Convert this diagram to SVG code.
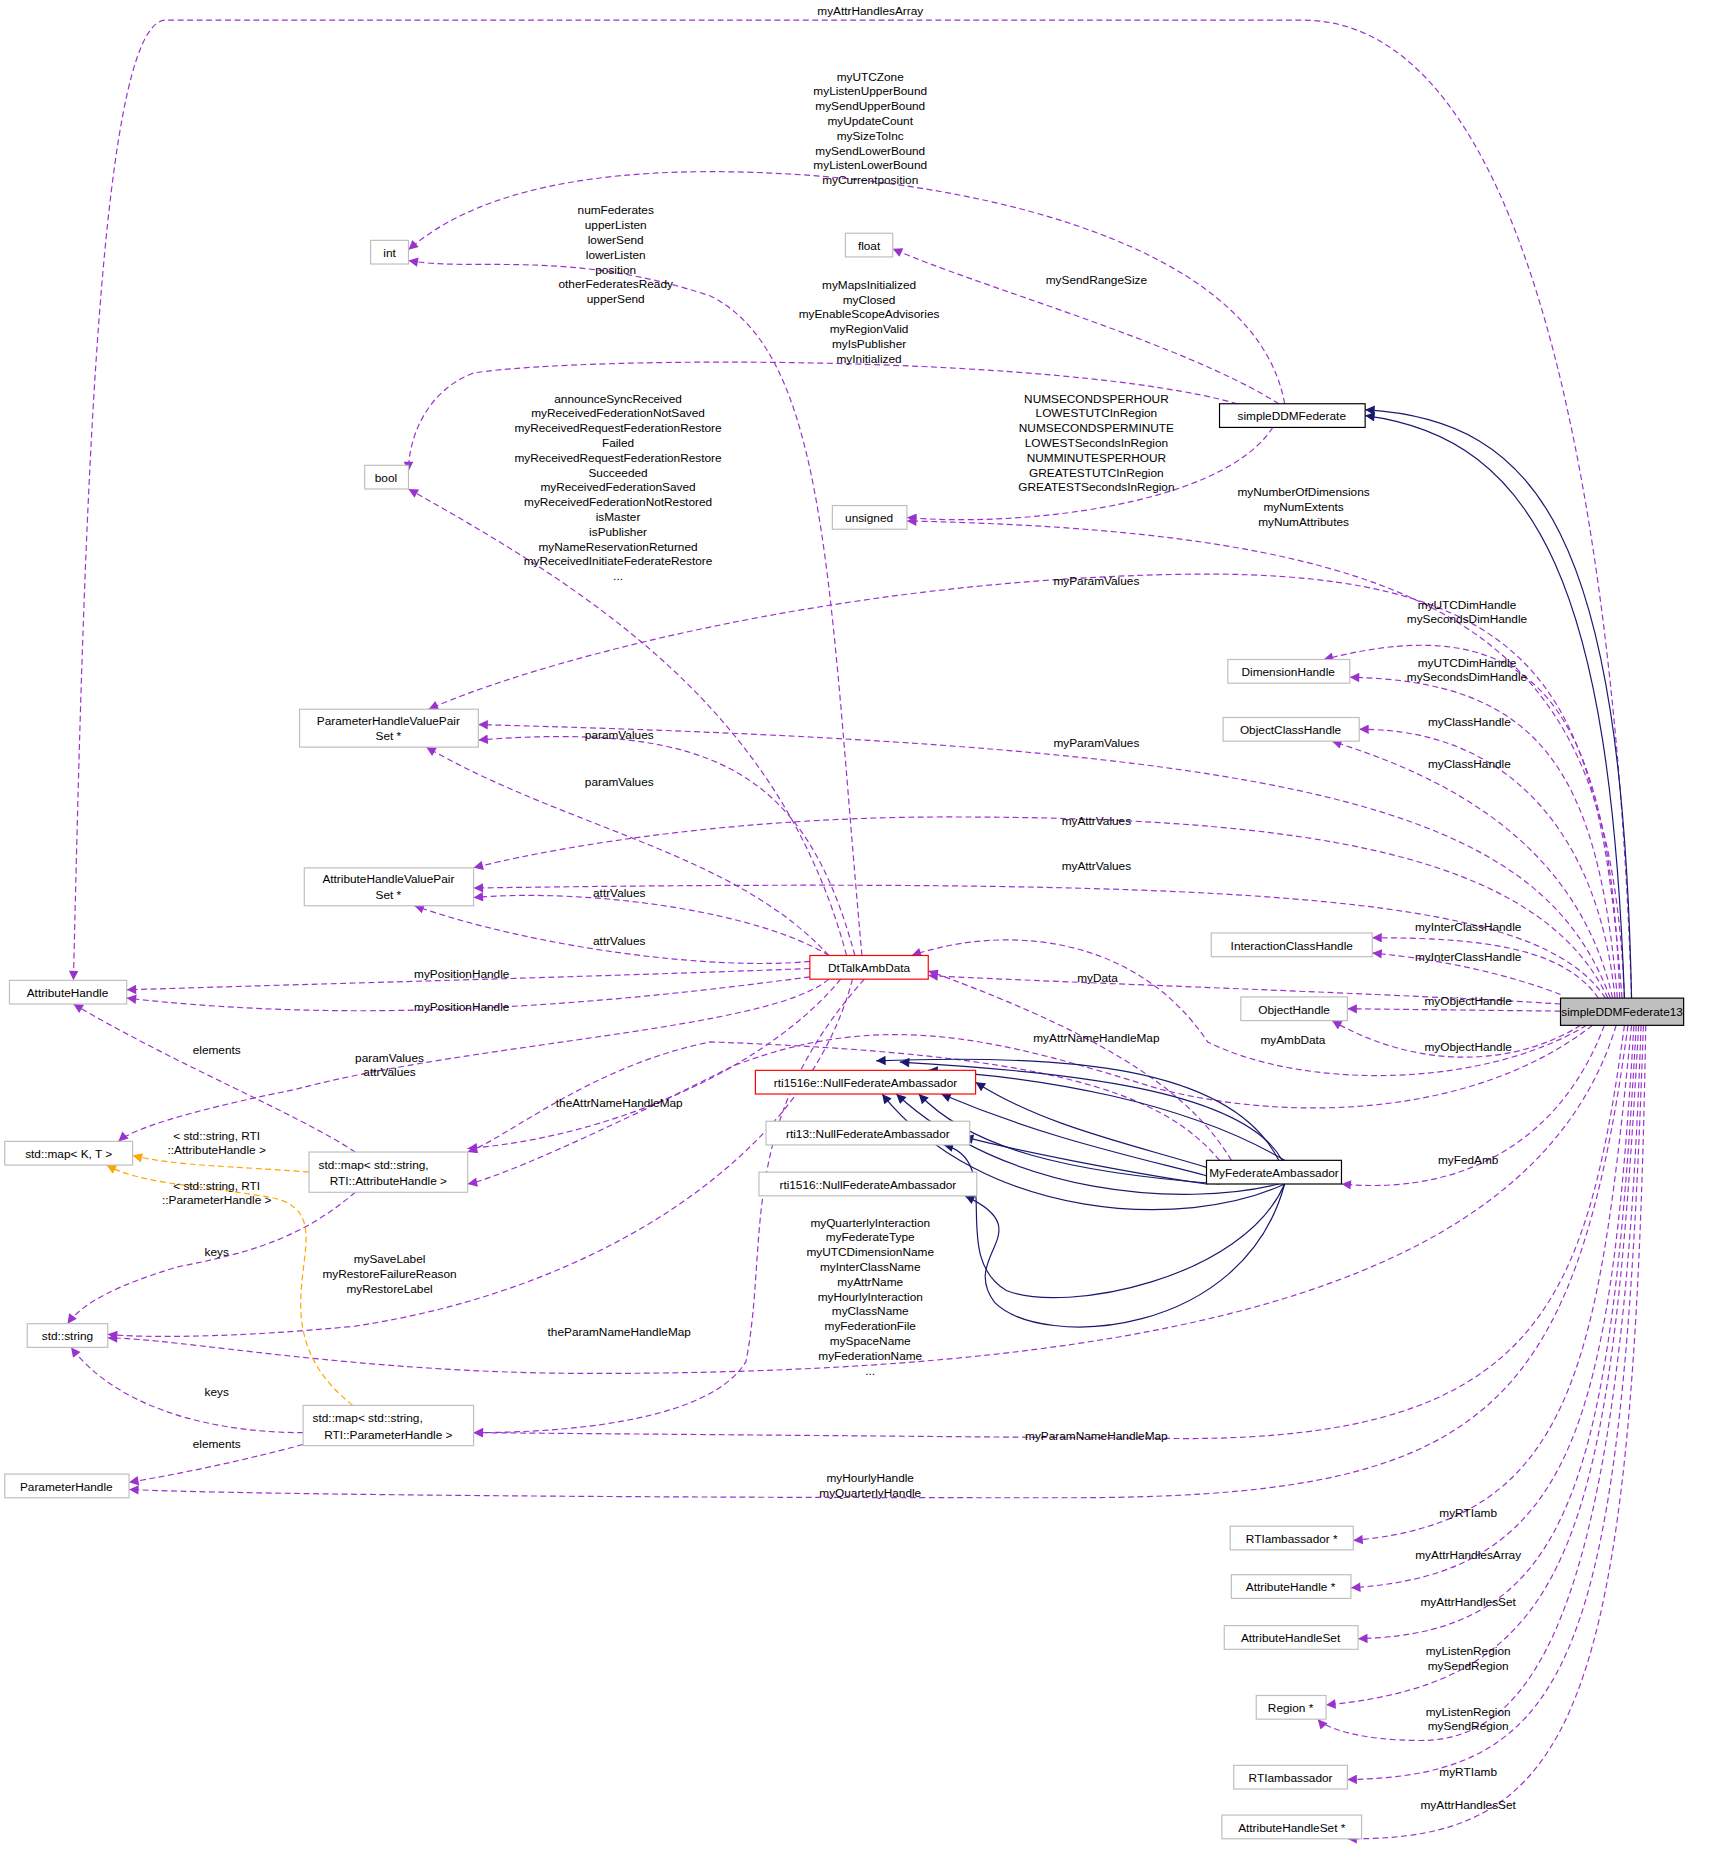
<svg xmlns="http://www.w3.org/2000/svg" width="1717" height="1850" viewBox="0 0 1717 1850">
<style>
text{font-family:"Liberation Sans",Arial,sans-serif;font-size:10px;fill:#000}
.n rect{fill:#fff;stroke:#bfbfbf;stroke-width:1}
.b rect{stroke:#000}
.r rect{stroke:#ff0000}
.m rect{fill:#bfbfbf;stroke:#000}
.e{fill:none;stroke:#9a32cd;stroke-dasharray:5,3;marker-end:url(#ap)}
.o{fill:none;stroke:#ffa500;stroke-dasharray:5,3;marker-end:url(#ao)}
.s{fill:none;stroke:#191970;marker-end:url(#an)}
.l{text-anchor:middle}
</style>
<defs>
<marker id="ap" viewBox="0 0 10 10" refX="10" refY="5" markerWidth="11" markerHeight="8" markerUnits="userSpaceOnUse" orient="auto"><path d="M0,0L10,5L0,10z" fill="#9a32cd"/></marker>
<marker id="ao" viewBox="0 0 10 10" refX="10" refY="5" markerWidth="11" markerHeight="8" markerUnits="userSpaceOnUse" orient="auto"><path d="M0,0L10,5L0,10z" fill="#ffa500"/></marker>
<marker id="an" viewBox="0 0 10 10" refX="10" refY="5" markerWidth="11" markerHeight="8" markerUnits="userSpaceOnUse" orient="auto"><path d="M0,0L10,5L0,10z" fill="#191970"/></marker>
</defs>
<rect width="1717" height="1850" fill="#fff"/>
<g transform="scale(1.184)">
<g id="connectors">
<path class="e" d="M1378,843C1370,600 1330,17 1100,17L140,17C80,17 70,500 62,828"/>
<path class="e" d="M1085,341C1060,200 800,145 600,145C450,145 380,180 345,211"/>
<path class="e" d="M1080,341C1000,290 820,240 754,210"/>
<path class="e" d="M1045,341C900,300 500,300 400,315C360,330 345,370 345,398"/>
<path class="e" d="M1075,361C1030,430 850,445 766,437"/>
<path class="e" d="M1372,843C1360,550 1250,450 766,440"/>
<path class="e" d="M1370,843C1350,600 1320,480 1000,485C700,490 450,560 362,599"/>
<path class="e" d="M1368,843C1360,600 1300,510 1118,557"/>
<path class="e" d="M1366,843C1350,650 1300,575 1140,572"/>
<path class="e" d="M1364,843C1350,700 1270,615 1148,616"/>
<path class="e" d="M1362,843C1330,700 1200,650 1125,626"/>
<path class="e" d="M1360,843C1300,680 1100,630 404,612"/>
<path class="e" d="M1358,843C1300,720 1100,690 800,690C600,690 450,720 400,733"/>
<path class="e" d="M1356,843C1300,760 1100,740 400,750"/>
<path class="e" d="M1350,843C1320,800 1250,792 1159,792"/>
<path class="e" d="M1318,840C1280,825 1220,810 1159,805"/>
<path class="e" d="M1318,854L1138,852"/>
<path class="e" d="M1335,866C1280,900 1200,905 1125,862"/>
<path class="e" d="M1318,848C1200,840 900,830 784,824"/>
<path class="e" d="M1340,866C1250,920 1100,920 1020,880C960,790 850,780 770,807"/>
<path class="e" d="M1345,866C1250,940 1100,950 980,920C850,880 750,850 620,900C500,960 420,995 395,1000"/>
<path class="e" d="M1355,866C1320,960 1240,1010 1133,1000"/>
<path class="e" d="M1365,866C1300,1080 1000,1160 500,1160C300,1160 150,1130 91,1130"/>
<path class="e" d="M1372,866C1340,1100 1300,1215 1000,1215L400,1210"/>
<path class="e" d="M1375,866C1330,1200 1250,1265 900,1265C500,1265 200,1262 109,1258"/>
<path class="e" d="M1378,866C1350,1150 1330,1285 1143,1301"/>
<path class="e" d="M1380,866C1360,1200 1330,1330 1141,1341"/>
<path class="e" d="M1382,866C1360,1250 1330,1380 1147,1384"/>
<path class="e" d="M1384,866C1360,1300 1330,1420 1120,1440"/>
<path class="e" d="M1386,866C1370,1350 1300,1470 1200,1470C1150,1470 1120,1460 1113,1452"/>
<path class="e" d="M1388,866C1370,1400 1330,1500 1138,1503"/>
<path class="e" d="M1390,866C1380,1450 1330,1555 1138,1553"/>
<path class="e" d="M728,807C700,500 700,300 600,250C480,210 400,230 345,220"/>
<path class="e" d="M715,807C660,600 500,500 345,413"/>
<path class="e" d="M722,807C680,650 600,610 404,625"/>
<path class="e" d="M700,807C620,720 480,700 360,631"/>
<path class="e" d="M700,807C640,770 500,750 400,758"/>
<path class="e" d="M684,812C600,820 450,800 350,765"/>
<path class="e" d="M684,818C500,825 300,830 107,836"/>
<path class="e" d="M684,825C500,850 300,865 107,843"/>
<path class="e" d="M700,827C650,870 400,880 250,920C150,940 110,955 100,964"/>
<path class="e" d="M710,827C650,900 520,960 395,970"/>
<path class="e" d="M720,827C680,980 500,1090 300,1120C200,1130 120,1130 91,1127"/>
<path class="e" d="M730,827C620,950 650,1050 630,1150C600,1200 480,1210 400,1210"/>
<path class="e" d="M1040,980C1010,930 950,880 784,820"/>
<path class="e" d="M1030,980C980,920 880,890 600,880C500,900 430,960 395,973"/>
<path class="e" d="M300,973C250,940 150,900 62,848"/>
<path class="e" d="M300,1007C250,1050 200,1060 150,1070C100,1085 70,1100 57,1118"/>
<path class="e" d="M256,1210C180,1210 100,1190 60,1138"/>
<path class="e" d="M256,1220C200,1235 150,1245 109,1252"/>
<path class="o" d="M261,990C200,985 150,985 112,976"/>
<path class="o" d="M298,1187C200,1110 310,1020 220,1010C160,1000 120,1000 90,984"/>
<path class="s" d="M1372,843C1360,500 1300,370 1153,351"/>
<path class="s" d="M1378,843C1370,450 1300,355 1153,346"/>
<path class="s" d="M1080,980C1040,900 900,890 740,896"/>
<path class="s" d="M1083,980C1050,920 900,905 760,897"/>
<path class="s" d="M1085,980C1000,930 880,910 784,904"/>
<path class="s" d="M1019,986C950,965 880,950 824,914"/>
<path class="s" d="M1019,993C950,975 880,960 795,924"/>
<path class="s" d="M1030,1000C900,990 820,970 776,924"/>
<path class="s" d="M1080,1000C1000,1020 850,1010 757,924"/>
<path class="s" d="M1085,1000C1000,1040 830,1030 745,924"/>
<path class="s" d="M1019,1000C950,990 850,970 814,960"/>
<path class="s" d="M1085,1000C1050,1080 900,1110 850,1090C800,1060 850,980 797,967"/>
<path class="s" d="M1085,1000C1050,1130 880,1140 840,1100C810,1060 880,1040 815,1010"/>
</g>
<g id="edge-labels">
<text class="l" x="735" y="13">myAttrHandlesArray</text>
<text class="l" x="735" y="68">myUTCZone</text><text class="l" x="735" y="80.5">myListenUpperBound</text><text class="l" x="735" y="93">mySendUpperBound</text><text class="l" x="735" y="105.5">myUpdateCount</text><text class="l" x="735" y="118">mySizeToInc</text><text class="l" x="735" y="130.5">mySendLowerBound</text><text class="l" x="735" y="143">myListenLowerBound</text><text class="l" x="735" y="155.5">myCurrentposition</text>
<text class="l" x="926" y="240">mySendRangeSize</text>
<text class="l" x="734" y="244">myMapsInitialized</text><text class="l" x="734" y="256.5">myClosed</text><text class="l" x="734" y="269">myEnableScopeAdvisories</text><text class="l" x="734" y="281.5">myRegionValid</text><text class="l" x="734" y="294">myIsPublisher</text><text class="l" x="734" y="306.5">myInitialized</text>
<text class="l" x="926" y="340">NUMSECONDSPERHOUR</text><text class="l" x="926" y="352.5">LOWESTUTCInRegion</text><text class="l" x="926" y="365">NUMSECONDSPERMINUTE</text><text class="l" x="926" y="377.5">LOWESTSecondsInRegion</text><text class="l" x="926" y="390">NUMMINUTESPERHOUR</text><text class="l" x="926" y="402.5">GREATESTUTCInRegion</text><text class="l" x="926" y="415">GREATESTSecondsInRegion</text>
<text class="l" x="1101" y="419">myNumberOfDimensions</text><text class="l" x="1101" y="431.5">myNumExtents</text><text class="l" x="1101" y="444">myNumAttributes</text>
<text class="l" x="520" y="181">numFederates</text><text class="l" x="520" y="193.5">upperListen</text><text class="l" x="520" y="206">lowerSend</text><text class="l" x="520" y="218.5">lowerListen</text><text class="l" x="520" y="231">position</text><text class="l" x="520" y="243.5">otherFederatesReady</text><text class="l" x="520" y="256">upperSend</text>
<text class="l" x="522" y="340">announceSyncReceived</text><text class="l" x="522" y="352.5">myReceivedFederationNotSaved</text><text class="l" x="522" y="365">myReceivedRequestFederationRestore</text><text class="l" x="522" y="377.5">Failed</text><text class="l" x="522" y="390">myReceivedRequestFederationRestore</text><text class="l" x="522" y="402.5">Succeeded</text><text class="l" x="522" y="415">myReceivedFederationSaved</text><text class="l" x="522" y="427.5">myReceivedFederationNotRestored</text><text class="l" x="522" y="440">isMaster</text><text class="l" x="522" y="452.5">isPublisher</text><text class="l" x="522" y="465">myNameReservationReturned</text><text class="l" x="522" y="477.5">myReceivedInitiateFederateRestore</text><text class="l" x="522" y="490">...</text>
<text class="l" x="926" y="494">myParamValues</text>
<text class="l" x="1239" y="514">myUTCDimHandle</text><text class="l" x="1239" y="526.5">mySecondsDimHandle</text>
<text class="l" x="1239" y="563">myUTCDimHandle</text><text class="l" x="1239" y="575.5">mySecondsDimHandle</text>
<text class="l" x="1241" y="613">myClassHandle</text>
<text class="l" x="523" y="624">paramValues</text>
<text class="l" x="926" y="631">myParamValues</text>
<text class="l" x="1241" y="649">myClassHandle</text>
<text class="l" x="523" y="664">paramValues</text>
<text class="l" x="926" y="697">myAttrValues</text>
<text class="l" x="926" y="735">myAttrValues</text>
<text class="l" x="523" y="758">attrValues</text>
<text class="l" x="1240" y="786">myInterClassHandle</text>
<text class="l" x="523" y="798">attrValues</text>
<text class="l" x="1240" y="812">myInterClassHandle</text>
<text class="l" x="390" y="826">myPositionHandle</text>
<text class="l" x="927" y="829">myData</text>
<text class="l" x="1240" y="849">myObjectHandle</text>
<text class="l" x="390" y="854">myPositionHandle</text>
<text class="l" x="1092" y="882">myAmbData</text>
<text class="l" x="926" y="880">myAttrNameHandleMap</text>
<text class="l" x="1240" y="888">myObjectHandle</text>
<text class="l" x="183" y="890">elements</text>
<text class="l" x="329" y="897">paramValues</text><text class="l" x="329" y="909">attrValues</text>
<text class="l" x="523" y="935">theAttrNameHandleMap</text>
<text class="l" x="183" y="963">&lt; std::string, RTI</text><text class="l" x="183" y="975">::AttributeHandle &gt;</text>
<text class="l" x="1240" y="983">myFedAmb</text>
<text class="l" x="183" y="1005">&lt; std::string, RTI</text><text class="l" x="183" y="1017">::ParameterHandle &gt;</text>
<text class="l" x="735" y="1036">myQuarterlyInteraction</text><text class="l" x="735" y="1048.5">myFederateType</text><text class="l" x="735" y="1061">myUTCDimensionName</text><text class="l" x="735" y="1073.5">myInterClassName</text><text class="l" x="735" y="1086">myAttrName</text><text class="l" x="735" y="1098.5">myHourlyInteraction</text><text class="l" x="735" y="1111">myClassName</text><text class="l" x="735" y="1123.5">myFederationFile</text><text class="l" x="735" y="1136">mySpaceName</text><text class="l" x="735" y="1148.5">myFederationName</text><text class="l" x="735" y="1161">...</text>
<text class="l" x="183" y="1061">keys</text>
<text class="l" x="329" y="1067">mySaveLabel</text><text class="l" x="329" y="1079.5">myRestoreFailureReason</text><text class="l" x="329" y="1092">myRestoreLabel</text>
<text class="l" x="523" y="1128">theParamNameHandleMap</text>
<text class="l" x="183" y="1179">keys</text>
<text class="l" x="926" y="1216">myParamNameHandleMap</text>
<text class="l" x="183" y="1223">elements</text>
<text class="l" x="735" y="1252">myHourlyHandle</text><text class="l" x="735" y="1264.5">myQuarterlyHandle</text>
<text class="l" x="1240" y="1281">myRTIamb</text>
<text class="l" x="1240" y="1317">myAttrHandlesArray</text>
<text class="l" x="1240" y="1356">myAttrHandlesSet</text>
<text class="l" x="1240" y="1398">myListenRegion</text><text class="l" x="1240" y="1410.5">mySendRegion</text>
<text class="l" x="1240" y="1449">myListenRegion</text><text class="l" x="1240" y="1461.5">mySendRegion</text>
<text class="l" x="1240" y="1500">myRTIamb</text>
<text class="l" x="1240" y="1528">myAttrHandlesSet</text>
</g>
<g id="simpleDDMFederate13" class="n m"><rect x="1318" y="843" width="104" height="23"/><text class="l" x="1370" y="858">simpleDDMFederate13</text></g>
<g id="simpleDDMFederate" class="n b"><rect x="1030" y="341" width="123" height="20"/><text class="l" x="1091" y="355">simpleDDMFederate</text></g>
<g id="MyFederateAmbassador" class="n b"><rect x="1019" y="980" width="114" height="20"/><text class="l" x="1076" y="994">MyFederateAmbassador</text></g>
<g id="DtTalkAmbData" class="n r"><rect x="684" y="807" width="100" height="20"/><text class="l" x="734" y="821">DtTalkAmbData</text></g>
<g id="rti1516e" class="n r"><rect x="638" y="904" width="186" height="20"/><text class="l" x="731" y="918">rti1516e::NullFederateAmbassador</text></g>
<g id="rti13" class="n"><rect x="647" y="947" width="172" height="20"/><text class="l" x="733" y="961">rti13::NullFederateAmbassador</text></g>
<g id="rti1516" class="n"><rect x="641" y="990" width="184" height="20"/><text class="l" x="733" y="1004">rti1516::NullFederateAmbassador</text></g>
<g id="int" class="n"><rect x="313" y="203" width="32" height="20"/><text class="l" x="329" y="217">int</text></g>
<g id="float" class="n"><rect x="714" y="197" width="40" height="20"/><text class="l" x="734" y="211">float</text></g>
<g id="bool" class="n"><rect x="308" y="393" width="37" height="20"/><text class="l" x="326" y="407">bool</text></g>
<g id="unsigned" class="n"><rect x="703" y="427" width="63" height="20"/><text class="l" x="734" y="441">unsigned</text></g>
<g id="ParameterHandleValuePairSet" class="n"><rect x="253" y="599" width="151" height="32"/><text class="l" x="328" y="612">ParameterHandleValuePair</text><text class="l" x="328" y="625">Set *</text></g>
<g id="AttributeHandleValuePairSet" class="n"><rect x="257" y="733" width="143" height="32"/><text class="l" x="328" y="746">AttributeHandleValuePair</text><text class="l" x="328" y="759">Set *</text></g>
<g id="AttributeHandle" class="n"><rect x="8" y="828" width="99" height="20"/><text class="l" x="57" y="842">AttributeHandle</text></g>
<g id="stdmapKT" class="n"><rect x="4" y="964" width="108" height="20"/><text class="l" x="58" y="978">std::map&lt; K, T &gt;</text></g>
<g id="stdmapAttr" class="n"><rect x="261" y="973" width="134" height="34"/><text x="269" y="987">std::map&lt; std::string,</text><text class="l" x="328" y="1001">RTI::AttributeHandle &gt;</text></g>
<g id="stdstring" class="n"><rect x="23" y="1118" width="68" height="20"/><text class="l" x="57" y="1132">std::string</text></g>
<g id="stdmapParam" class="n"><rect x="256" y="1187" width="144" height="34"/><text x="264" y="1201">std::map&lt; std::string,</text><text class="l" x="328" y="1215">RTI::ParameterHandle &gt;</text></g>
<g id="ParameterHandle" class="n"><rect x="4" y="1245" width="105" height="20"/><text class="l" x="56" y="1259">ParameterHandle</text></g>
<g id="DimensionHandle" class="n"><rect x="1037" y="557" width="103" height="20"/><text class="l" x="1088" y="571">DimensionHandle</text></g>
<g id="ObjectClassHandle" class="n"><rect x="1033" y="606" width="115" height="20"/><text class="l" x="1090" y="620">ObjectClassHandle</text></g>
<g id="InteractionClassHandle" class="n"><rect x="1023" y="788" width="136" height="20"/><text class="l" x="1091" y="802">InteractionClassHandle</text></g>
<g id="ObjectHandle" class="n"><rect x="1048" y="842" width="90" height="20"/><text class="l" x="1093" y="856">ObjectHandle</text></g>
<g id="RTIambassadorPtr" class="n"><rect x="1039" y="1289" width="104" height="20"/><text class="l" x="1091" y="1303">RTIambassador *</text></g>
<g id="AttributeHandlePtr" class="n"><rect x="1040" y="1330" width="101" height="20"/><text class="l" x="1090" y="1344">AttributeHandle *</text></g>
<g id="AttributeHandleSet" class="n"><rect x="1034" y="1373" width="113" height="20"/><text class="l" x="1090" y="1387">AttributeHandleSet</text></g>
<g id="RegionPtr" class="n"><rect x="1061" y="1432" width="59" height="20"/><text class="l" x="1090" y="1446">Region *</text></g>
<g id="RTIambassador" class="n"><rect x="1042" y="1491" width="96" height="20"/><text class="l" x="1090" y="1505">RTIambassador</text></g>
<g id="AttributeHandleSetPtr" class="n"><rect x="1032" y="1533" width="118" height="20"/><text class="l" x="1091" y="1547">AttributeHandleSet *</text></g>
</g>
</svg>
